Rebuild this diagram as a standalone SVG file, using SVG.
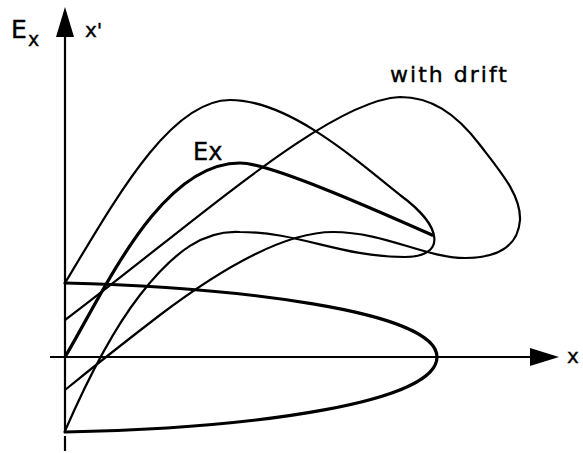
<svg xmlns="http://www.w3.org/2000/svg" width="583" height="453" viewBox="0 0 583 453">
<style>
.axis{stroke:#000;stroke-width:2.2;fill:none}
.head{fill:#000;stroke:none}
.thick{stroke:#000;stroke-width:3.2;fill:none;stroke-linecap:round;stroke-linejoin:round}
.thin{stroke:#000;stroke-width:2.2;fill:none;stroke-linecap:round;stroke-linejoin:round}
.lbl{font-family:"DejaVu Sans","Liberation Sans",sans-serif;fill:#000;stroke:#000;stroke-width:0.4}
</style>
<rect width="583" height="453" fill="#fff"/>
<g id="axes">
<line class="axis" x1="65" y1="34" x2="65" y2="432"/>
<line class="axis" x1="65" y1="436" x2="65" y2="451"/>
<polygon class="head" points="65,7 56,37 74,37"/>
<line class="axis" x1="50" y1="357" x2="533" y2="357"/>
<polygon class="head" points="559,357 530,348 530,366"/>
</g>
<g id="connectors">
<path id="ellipse" class="thick" d="M65,283 C230,287 437,310 437,357 C437,402 260,428 65,432"/>
<path id="ex-curve" class="thick" d="M65,357 C105,290 160,163 240,163 C270,163 380,212 432,235"/>
<path id="distorted" class="thin" d="M65,283 C115,200 170,100 230,100 C285,100 345,150 400,195 C445,228 445,257 405,257 C340,257 300,232 240,232 C205,230 175,250 140,295 C112,331 85,385 65,431"/>
<path id="drift" class="thin" d="M65,320 C200,218 330,100 400,97 C430,97 455,112 480,145 C500,171 521,195 520,220 C518,248 495,258 465,258 C425,258 385,232 333,232 C290,232 230,262 160,315 C130,338 92,368 65,390"/>
</g>
<g id="labels">
<text class="lbl" x="11" y="38" font-size="25">E</text>
<text class="lbl" x="28" y="46" font-size="19">x</text>
<text class="lbl" x="85" y="37" font-size="20">x'</text>
<text class="lbl" x="390" y="82" font-size="22" textLength="117" lengthAdjust="spacing">with  drift</text>
<text class="lbl" x="193" y="160" font-size="24">Ex</text>
<text class="lbl" x="567" y="363" font-size="20">x</text>
</g>
</svg>
